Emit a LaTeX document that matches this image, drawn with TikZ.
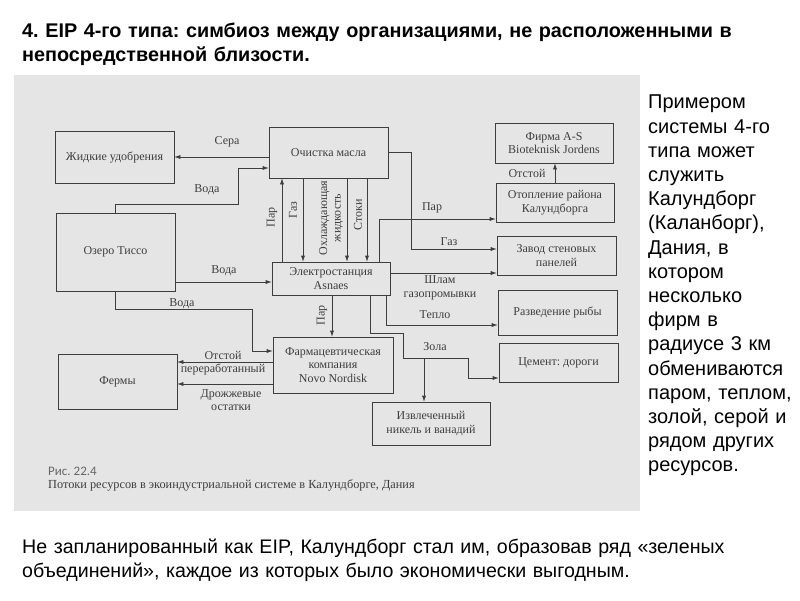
\documentclass[tikz,border=0pt]{standalone}
\usepackage{fontspec}
\setmainfont{Liberation Serif}
\newfontfamily\slidefont{Liberation Sans}
\newfontfamily\capfont{Carlito}
\usetikzlibrary{arrows.meta,calc,positioning}
\definecolor{panelgray}{RGB}{229,229,229}
\definecolor{ink}{RGB}{62,62,62}
\frenchspacing

\begin{document}
\begin{tikzpicture}[x=1pt, y=-1pt,
  font=\fontsize{12}{13.5}\selectfont,
  box/.style={draw=ink, text=ink, align=center, inner sep=2pt, line width=0.6pt,
    minimum width=119pt},
  lbl/.style={text=ink, inner sep=1pt, align=center},
  vlbl/.style={lbl, rotate=90},
  flow/.style={-{Latex[length=6pt,width=4pt]}, draw=ink, line width=0.6pt},
  slide/.style={anchor=north west, inner sep=0pt, align=left}
]
  \useasboundingbox (0,0) rectangle (800,600);
  \fill[panelgray] (14,75) rectangle (640,511);

  % slide texts
  \node[slide, text width=770pt, font=\slidefont\bfseries\fontsize{19.8}{24.2}\selectfont] (title) at (22,23)
    {4. EIP 4-го типа: симбиоз между организациями, не расположенными в\\непосредственной близости.};
  \node[slide, text width=155pt, font=\slidefont\fontsize{20}{24.2}\selectfont] (side) at (648,95)
    {Примером\\системы 4-го\\типа может\\служить\\Калундборг\\(Каланборг),\\Дания, в\\котором\\несколько\\фирм в\\радиусе 3 км\\обмениваются\\паром, теплом,\\золой, серой и\\рядом других\\ресурсов.};
  \node[slide, text width=770pt, font=\slidefont\fontsize{19.6}{24.2}\selectfont] (note) at (22,539)
    {Не запланированный как EIP, Калундборг стал им, образовав ряд «зеленых\\объединений», каждое из которых было экономически выгодным.};

  % boxes
  \node[box, minimum height=52pt] (fert) at (114.5,157) {Жидкие удобрения};
  \node[box, minimum height=78pt] (lake) at (115.5,252) {Озеро Тиссо};
  \node[box, minimum height=55pt] (farms) at (117.5,381.5) {Фермы};
  \node[box, minimum height=51pt] (oil) at (328.5,152.5) {Очистка масла};
  \node[box, minimum width=118pt, minimum height=33pt] (power) at (331,278.5) {Электростанция\\Asnaes};
  \node[box, minimum width=120pt, minimum height=56pt] (pharma) at (333,365) {Фармацевтическая\\компания\\Novo Nordisk};
  \node[box, minimum width=118pt, minimum height=43pt] (nickel) at (431,423.5) {Извлеченный\\никель и ванадий};
  \node[box, minimum width=118pt, minimum height=40pt] (firm) at (554,143) {Фирма A-S\\Bioteknisk Jordens};
  \node[box, minimum width=118pt, minimum height=39pt] (heat) at (555,202.5) {Отопление района\\Калундборга};
  \node[box, minimum height=39pt] (panels) at (556.5,255.5) {Завод стеновых\\панелей};
  \node[box, minimum height=45pt] (fish) at (557.5,312.5) {Разведение рыбы};
  \node[box, minimum height=39pt] (cement) at (558.5,362.5) {Цемент: дороги};

  % flows
  \draw[flow] (oil.west |- fert.east) -- (fert.east);
  \draw[flow] (lake.north) |- (238,204) |- (oil.west |- 0,168);
  \draw[flow] (lake.east |- 0,282) -- (power.west |- 0,282);
  \draw[flow] (lake.south) |- (252,309) |- (pharma.west |- 0,351);
  \draw[flow] (pharma.west |- 0,362) -- (farms.east |- 0,362);
  \draw[flow] (pharma.west |- 0,384) -- (farms.east |- 0,384);
  \draw[flow] (power.north -| 282,0) -- (oil.south -| 282,0);
  \draw[flow] (oil.south -| 303,0) -- (power.north -| 303,0);
  \draw[flow] (oil.south -| 347,0) -- (power.north -| 347,0);
  \draw[flow] (oil.south -| 367,0) -- (power.north -| 367,0);
  \draw[flow] (oil.east |- 0,152) -| (411,249) -- (panels.west |- 0,249);
  \draw[flow] (power.north -| 379,0) |- (heat.west |- 0,219);
  \draw[flow] (power.east |- 0,273) -- (panels.west |- 0,273);
  \draw[flow] (power.south -| 386,0) |- (fish.west |- 0,325);
  \draw[flow] (power.south -| 370,0) |- (403,333) |- (468,358) |- (cement.west |- 0,378);
  \coordinate (ashsplit) at (424,358);
  \draw[flow] (ashsplit) -- (nickel.north -| ashsplit);
  \draw[flow] (power.south -| 332,0) -- (pharma.north -| 332,0);
  \draw[flow] (heat.north -| 555,0) -- (firm.south -| 555,0);

  % flow labels
  \node[lbl] (lsulfur) at (227,142) {Сера};
  \node[lbl] (lwater1) at (207,190) {Вода};
  \node[lbl] (lwater2) at (224,271) {Вода};
  \node[lbl] (lwater3) at (182,304) {Вода};
  \node[lbl] (lsludge) at (223,363) {Отстой\\переработанный};
  \node[lbl] (lyeast) at (231,400) {Дрожжевые\\остатки};
  \node[vlbl] (lsteam1) at (272,217) {Пар};
  \node[vlbl] (lgas1) at (293,210) {Газ};
  \node[vlbl] (lcool) at (331,218) {Охлаждающая\\жидкость};
  \node[vlbl] (ldrain) at (358,215) {Стоки};
  \node[vlbl] (lsteam2) at (322,315) {Пар};
  \node[lbl] (lsteam3) at (432,208) {Пар};
  \node[lbl] (lgas2) at (449,242) {Газ};
  \node[lbl] (lslurry) at (440,288) {Шлам\\газопромывки};
  \node[lbl] (lheat) at (435,315) {Тепло};
  \node[lbl] (lash) at (435,347) {Зола};
  \node[lbl] (lsludge2) at (527,173) {Отстой};

  % caption
  \node[anchor=west, inner sep=0pt, text=black!60, font=\capfont\fontsize{13}{15}\selectfont] (fignum) at (48,471) {Рис. 22.4};
  \node[anchor=west, inner sep=0pt, text=ink, font=\fontsize{12.3}{14}\selectfont] (figcap) at (48,485)
    {Потоки ресурсов в экоиндустриальной системе в Калундборге, Дания};
\end{tikzpicture}
\end{document}
